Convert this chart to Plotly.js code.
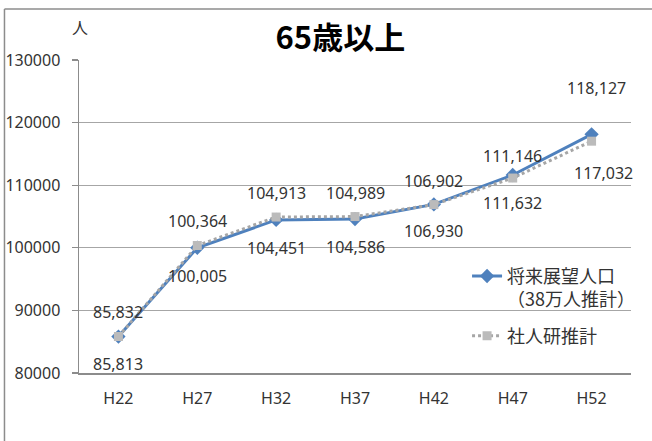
<!DOCTYPE html>
<html>
<head>
<meta charset="utf-8">
<script src="https://cdn.plot.ly/plotly-3.0.1.min.js"></script>
<style>
  html, body { margin: 0; padding: 0; background: #ffffff; }
  #chart { width: 652px; height: 441px; }
</style>
</head>
<body>
<div id="chart"></div>
<script>
// ---- data ----
const categories = ['H22', 'H27', 'H32', 'H37', 'H42', 'H47', 'H52'];
const planName = '将来展望人口<br>（38万人推計）';
const planValues = [85813, 100005, 104451, 104586, 106930, 111632, 118127];
const ipssName = '社人研推計';
const ipssValues = [85832, 100364, 104913, 104989, 106902, 111146, 117032];
const yTickValues = [80000, 90000, 100000, 110000, 120000, 130000];
const titleText = '65歳以上';
const unitText = '人';

// ---- label placement (style only) ----
const planLabelShift = [-27, -28, -28, -28, -27, -28, 46];
const planLabelXShift = [0, 0, 0, 0, 0, 0, 5];
const ipssLabelShift = [24, 25, 24, 24, 24, 22, -32];
const ipssLabelXShift = [0, 0, 0, 0, 0, 0, 12];

const fontFamily = '"Noto Sans", "Noto Sans CJK JP", sans-serif';
const cjkFamily = '"Noto Sans CJK JP", "Noto Sans", sans-serif';
const textColor = '#333333';

const fmt = v => v.toLocaleString('en-US');

const annotations = [];
categories.forEach((c, i) => {
  annotations.push({
    x: c, y: planValues[i], xref: 'x', yref: 'y',
    text: fmt(planValues[i]), showarrow: false,
    yshift: planLabelShift[i], xshift: planLabelXShift[i],
    font: { family: fontFamily, size: 16, color: textColor }
  });
  annotations.push({
    x: c, y: ipssValues[i], xref: 'x', yref: 'y',
    text: fmt(ipssValues[i]), showarrow: false,
    yshift: ipssLabelShift[i], xshift: ipssLabelXShift[i],
    font: { family: fontFamily, size: 16, color: textColor }
  });
});
annotations.push({
  xref: 'paper', yref: 'paper', x: 0.002, y: 1.105,
  xanchor: 'center', yanchor: 'middle',
  text: unitText, showarrow: false,
  font: { family: cjkFamily, size: 16, color: textColor }
});

const traces = [
  {
    x: categories, y: planValues, name: planName, legendgroup: 'plan',
    type: 'scatter', mode: 'lines+markers',
    line: { color: '#4F81BD', width: 3 },
    marker: { symbol: 'diamond', size: 11, color: '#4F81BD' },
    hoverinfo: 'skip'
  },
  {
    x: categories, y: ipssValues, name: ipssName, legendgroup: 'ipss',
    type: 'scatter', mode: 'lines+markers',
    line: { color: '#A6A6A6', width: 3, dash: 'dot' },
    marker: { symbol: 'square', size: 9, color: '#BBBBBB' },
    hoverinfo: 'skip'
  }
];

const layout = {
  width: 652, height: 441,
  margin: { l: 79, r: 17, t: 60, b: 68 },
  paper_bgcolor: '#ffffff', plot_bgcolor: 'rgba(0,0,0,0)',
  title: {
    text: '<b>' + titleText + '</b>',
    font: { family: cjkFamily, size: 31, color: '#000000' },
    x: 0.522, xref: 'container', xanchor: 'center',
    y: 0.914, yref: 'container', yanchor: 'middle'
  },
  xaxis: {
    type: 'category', range: [-0.5, 6.5],
    showline: true, linecolor: '#8C8C8C', linewidth: 1.5,
    showgrid: false, ticks: '', ticklabelstandoff: 10,
    tickfont: { family: fontFamily, size: 16, color: textColor },
    fixedrange: true
  },
  yaxis: {
    range: [80000, 130000], tickvals: yTickValues, tickformat: 'd',
    showline: true, linecolor: '#8C8C8C', linewidth: 1.5,
    showgrid: true, gridcolor: '#A6A6A6', gridwidth: 1.2,
    ticks: 'outside', ticklen: 6, tickcolor: '#8C8C8C', tickwidth: 1.2,
    ticklabelstandoff: 8,
    tickfont: { family: fontFamily, size: 16, color: textColor },
    zeroline: false, fixedrange: true
  },
  showlegend: true,
  legend: {
    x: 0.703, y: 0.368, xanchor: 'left', yanchor: 'top',
    bgcolor: 'rgba(0,0,0,0)', borderwidth: 0,
    font: { family: cjkFamily, size: 18, color: textColor },
    valign: 'top', traceorder: 'grouped', tracegroupgap: 10
  },
  annotations: annotations,
  shapes: [
    { type: 'line', xref: 'paper', yref: 'paper', x0: -0.135, x1: 1.05, y0: 1.163, y1: 1.163,
      line: { color: '#8C8C8C', width: 1.5 } },
    { type: 'line', xref: 'paper', yref: 'paper', x0: -0.135, x1: -0.135, y0: 1.163, y1: -0.25,
      line: { color: '#8C8C8C', width: 1.5 } }
  ]
};

Plotly.newPlot('chart', traces, layout, { staticPlot: true, displayModeBar: false });
</script>
</body>
</html>
